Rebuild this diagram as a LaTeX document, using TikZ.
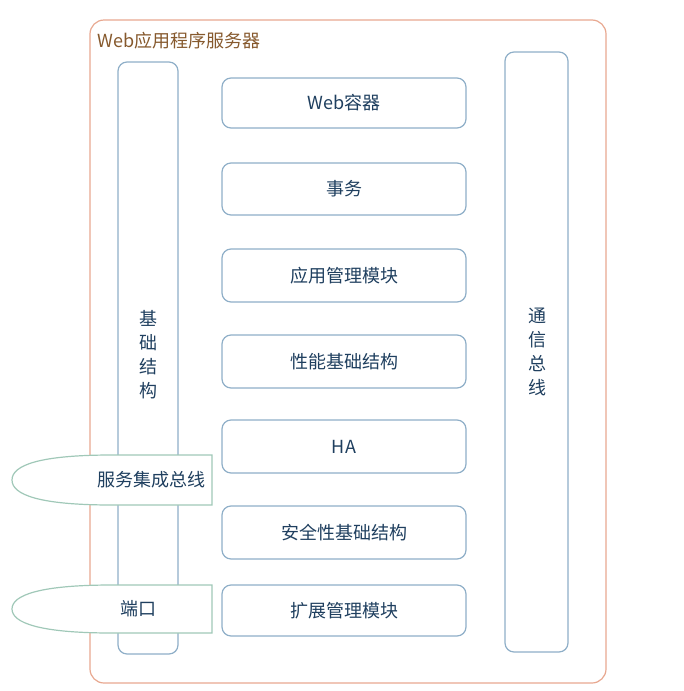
\documentclass[tikz,border=0pt]{standalone}
\usepackage{fontspec}
\setmainfont{Noto Sans CJK SC}
\begin{document}
\begin{tikzpicture}[x=1pt,y=-1pt,
  box/.style={draw=boxc,line width=1.2pt,rounded corners=9pt,fill=white},
  lbl/.style={text=txtc,font=\fontsize{18}{24}\selectfont},
  tag/.style={draw=tagc,line width=1.2pt,fill=white}]
\definecolor{boxc}{HTML}{8FAFC8}
\definecolor{txtc}{HTML}{1F3F5F}
\definecolor{tagc}{HTML}{A0C8B8}
\definecolor{outc}{HTML}{E8A890}
\useasboundingbox (0,0) rectangle (683,691);
\draw[draw=outc,line width=1.2pt,rounded corners=14pt] (90,20) rectangle (606,683);
\node[anchor=west,text=brown!70!black,font=\fontsize{18}{22}\selectfont] (title) at (94,41) {Web应用程序服务器};
\draw[box] (118,62) rectangle (178,654);
\node[lbl,align=center] (infra) at (148,355) {基\\础\\结\\构};
\draw[box] (505,52) rectangle (568,652);
\node[lbl,align=center] (bus) at (537,352) {通\\信\\总\\线};
\foreach \n/\t/\a/\b in {m1/Web容器/78/128, m2/事务/163/215, m3/应用管理模块/249/302, m4/性能基础结构/335/388, m5/HA/420/473, m6/安全性基础结构/506/559, m7/扩展管理模块/585/636}{
  \draw[box] (222,\a) rectangle (466,\b);
  \node[lbl] (\n) at (344,{(\a+\b)/2}) {\t};
}
\draw[tag] (212,455) -- (212,505) -- (112,505) .. controls (40,505) and (12,495) .. (12,480) .. controls (12,465) and (40,455) .. (112,455) -- cycle;
\node[lbl,anchor=east] (sib) at (209,480) {服务集成总线};
\draw[tag] (212,585) -- (212,633) -- (112,633) .. controls (40,633) and (12,623) .. (12,609) .. controls (12,595) and (40,585) .. (112,585) -- cycle;
\node[lbl] (port) at (138,609) {端口};
\end{tikzpicture}
\end{document}
